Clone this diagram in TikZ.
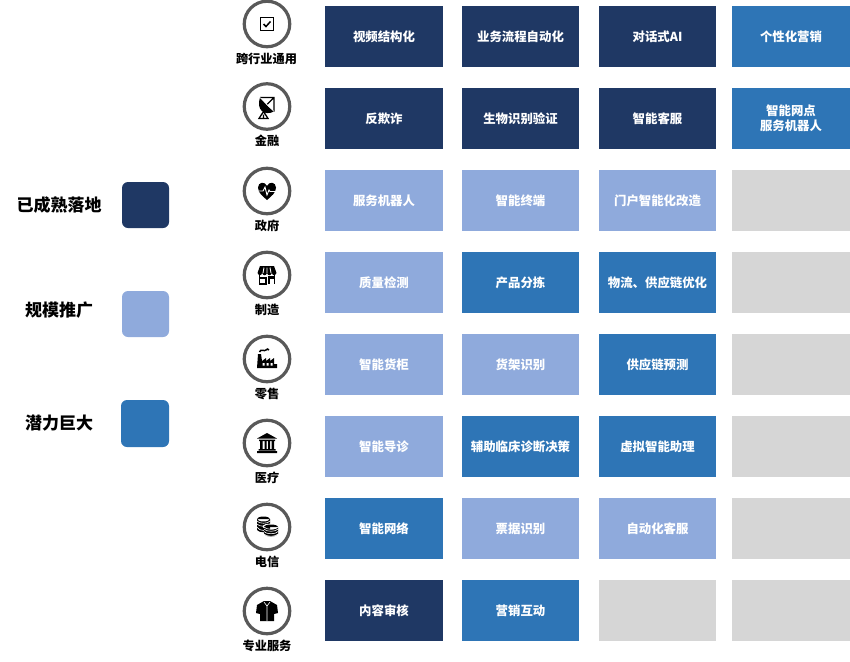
\documentclass[tikz,border=0pt]{standalone}
\usepackage{fontspec}
\setmainfont{Noto Sans CJK SC}
\definecolor{matureblue}{HTML}{1F3864}
\definecolor{scaleblue}{HTML}{8FAADC}
\definecolor{potentialblue}{HTML}{2E75B6}
\definecolor{emptygrey}{HTML}{D6D6D6}
\definecolor{ringgrey}{HTML}{595959}
\tikzset{
	cell/.style={minimum height=61, inner sep=0, outer sep=0, align=center, text=white, font=\fontsize{12.4}{15}\selectfont\bfseries},
	wide/.style={cell, minimum width=118},
	narrow/.style={cell, minimum width=117},
	ring/.style={draw=ringgrey, line width=3.2, circle, minimum size=45.5, inner sep=0},
	sector/.style={inner sep=0, font=\fontsize{12.2}{14}\selectfont\bfseries},
	swatch/.style={rounded corners=6, minimum width=47, minimum height=46, inner sep=0},
	levelname/.style={inner sep=0, font=\fontsize{17}{20}\selectfont\bfseries}
}
\begin{document}
\begin{tikzpicture}[x=1pt, y=-1pt]
	\useasboundingbox (0, 0) rectangle (850, 661);

	% legend
	\node (mature) [levelname] at (59, 205) {已成熟落地};
	\node (scale) [levelname] at (59, 310) {规模推广};
	\node (potential) [levelname] at (59, 423) {潜力巨大};
	\node (maturebox) [swatch, fill=matureblue] at (145.5, 205) {};
	\node (scalebox) [swatch, fill=scaleblue] at (145.5, 314) {};
	\node (potentialbox) [swatch, fill=potentialblue, minimum width=48, minimum height=47] at (145, 423.5) {};

	% sectors
	\node (crossring) [ring] at (267, 24) {};
	\node (financering) [ring] at (267, 106.5) {};
	\node (govring) [ring] at (267, 191) {};
	\node (makering) [ring] at (267, 275) {};
	\node (retailring) [ring] at (267, 359) {};
	\node (medring) [ring] at (267, 443) {};
	\node (telring) [ring] at (267, 527) {};
	\node (proring) [ring] at (267, 611) {};
	\node (cross) [sector] at (266.5, 59) {跨行业通用};
	\node (finance) [sector] at (267, 141) {金融};
	\node (gov) [sector] at (267, 226) {政府};
	\node (make) [sector] at (267, 310) {制造};
	\node (retail) [sector] at (267, 394) {零售};
	\node (med) [sector] at (267, 478) {医疗};
	\node (tel) [sector] at (267, 562) {电信};
	\node (pro) [sector] at (267, 646) {专业服务};

	% checkbox
	\begin{scope}[shift={(crossring.center)}]
		\draw [line width=1.5] (-6.5, -6.5) rectangle (6.5, 6.5);
		\draw [line width=1.5] (-3.5, 0) -- (-1, 2.5) -- (3.5, -2.5);
	\end{scope}
	% dish
	\begin{scope}[shift={(financering.center)}]
		\draw [line width=1.2] (-7, -9) -- (7, -9) -- (7, 5) (7, -9) -- (0, -2);
		\fill (-7, -9) .. controls (-11, 3) and (-3, 10) .. (7, 5) -- (1, 0) -- cycle;
		\draw [white, line width=0.5] (-7, -9) -- (7, 5);
		\draw [line width=1.3] (-3.5, 5) -- (-8, 12) -- (1, 12) -- cycle (-3.5, 8) -- (-3.5, 12);
	\end{scope}
	% heart
	\begin{scope}[shift={(govring.center)}]
		\fill (0, 9) .. controls (-4, 5.5) and (-9, 2) .. (-9, -3.5) .. controls (-9, -9) and (-2, -10) .. (0, -5) .. controls (2, -10) and (9, -9) .. (9, -3.5) .. controls (9, 2) and (4, 5.5) .. (0, 9) -- cycle;
		\draw [white, line width=0.9] (-9, 0) -- (-4, 0) -- (-2, -4) -- (0, 4) -- (2, -1) -- (3, 0.5) -- (9, 0.5);
	\end{scope}
	% shop front
	\begin{scope}[shift={(makering.center)}]
		\fill (-7, -9) -- (7, -9) -- (9.5, -2) .. controls (8, 1) and (6, 1) .. (4.8, -2) .. controls (3.5, 1) and (1.2, 1) .. (0, -2) .. controls (-1.2, 1) and (-3.5, 1) .. (-4.8, -2) .. controls (-6, 1) and (-8, 1) .. (-9.5, -2) -- cycle;
		\draw [white, line width=0.9] (-3, -7.5) -- (-4, -2) (0, -7.5) -- (0, -2) (3, -7.5) -- (4, -2);
		\draw [line width=1.6] (-7.5, 0) -- (-7.5, 9) -- (-1, 9) -- (-1, 3) -- (-7.5, 3) (2, 9) -- (2, 1) (7.5, 0) -- (7.5, 9);
		\fill (1.2, 1) rectangle (8.3, 4);
	\end{scope}
	% factory
	\begin{scope}[shift={(retailring.center)}]
		\fill (-10, 9) -- (-9, -5) -- (-6, -5) -- (-5, 2) -- (-1, -1) -- (-1, 2) -- (3, -1) -- (3, 2) -- (7, -1) -- (7, 5) -- (10, 5) -- (10, 9) -- cycle;
		\draw [line width=1.5] (-7.5, -7) .. controls (-6, -11) and (-3, -7) .. (-1, -9) .. controls (0, -10.5) and (1, -10) .. (2, -9);
		\fill [white] (-4.5, 4) rectangle (-2.5, 6.5) (-0.5, 4) rectangle (1.5, 6.5) (3.5, 4) rectangle (5.5, 6.5);
	\end{scope}
	% bank
	\begin{scope}[shift={(medring.center)}]
		\fill (0, -10) -- (10, -4.5) -- (-10, -4.5) -- cycle;
		\fill (-8, -3.5) rectangle (8, -2) (-8.5, 6) rectangle (8.5, 7.5) (-10, 8) rectangle (10, 10);
		\fill (-7, -2) rectangle (-4.5, 6) (-2.5, -2) rectangle (-0.5, 6) (1, -2) rectangle (3, 6) (4.5, -2) rectangle (7, 6);
	\end{scope}
	% coins
	\begin{scope}[shift={(telring.center)}]
		\fill (-10, -8) rectangle (3, 3) (-10, 3) .. controls (-8, 6) and (1, 6) .. (3, 3) -- cycle (-3.5, -8) ellipse [x radius=6.5, y radius=2.5];
		\draw [white, line width=0.6] (-10, -6) .. controls (-8, -3) and (1, -3) .. (3, -6) (-10, -3) .. controls (-8, 0) and (1, 0) .. (3, -3) (-10, 0) .. controls (-8, 3) and (-5, 3.5) .. (-3, 3.5);
		\draw [white, line width=2.4] (-4, 0) .. controls (-2, -3) and (9, -3) .. (12, 0);
		\fill (-3, 0) rectangle (11, 7) (-3, 7) .. controls (-1, 10.5) and (9, 10.5) .. (11, 7) -- cycle (4, 0) ellipse [x radius=7, y radius=2.5];
		\draw [white, line width=0.6] (-3, 2) .. controls (-1, 5) and (9, 5) .. (11, 2) (-3, 4.5) .. controls (-1, 7.5) and (9, 7.5) .. (11, 4.5) (-3, 7) .. controls (-1, 10) and (9, 10) .. (11, 7) (-3, 0) .. controls (-1, 3) and (9, 3) .. (11, 0);
	\end{scope}
	% shirt
	\begin{scope}[shift={(proring.center)}]
		\fill (-3, -10) -- (3, -10) -- (10, -6) -- (11, 2) -- (7, 3) -- (7, 10) -- (-7, 10) -- (-7, 3) -- (-11, 2) -- (-10, -6) -- cycle;
		\draw [white, line width=0.6] (-3, -9) -- (0, -5) -- (3, -9) (0, -5) -- (0, 10);
	\end{scope}

	% cross-industry
	\node (video) [wide, fill=matureblue] at (384, 36.5) {视频结构化};
	\node (process) [narrow, fill=matureblue] at (520.5, 36.5) {业务流程自动化};
	\node (dialog) [narrow, fill=matureblue] at (657.5, 36.5) {对话式AI};
	\node (promo) [wide, fill=potentialblue] at (791, 36.5) {个性化营销};
	% finance
	\node (fraud) [wide, fill=matureblue] at (384, 118.5) {反欺诈};
	\node (biometric) [narrow, fill=matureblue] at (520.5, 118.5) {生物识别验证};
	\node (service) [narrow, fill=matureblue] at (657.5, 118.5) {智能客服};
	\node (branch) [wide, fill=potentialblue] at (791, 118.5) {智能网点\\服务机器人};
	% government
	\node (robot) [wide, fill=scaleblue] at (384, 200.5) {服务机器人};
	\node (terminal) [narrow, fill=scaleblue] at (520.5, 200.5) {智能终端};
	\node (portal) [narrow, fill=scaleblue] at (657.5, 200.5) {门户智能化改造};
	\node (govnone) [wide, fill=emptygrey] at (791, 200.5) {};
	% manufacturing
	\node (quality) [wide, fill=scaleblue] at (384, 282.5) {质量检测};
	\node (sorting) [narrow, fill=potentialblue] at (520.5, 282.5) {产品分拣};
	\node (logistics) [narrow, fill=potentialblue] at (657.5, 282.5) {物流、供应链优化};
	\node (makenone) [wide, fill=emptygrey] at (791, 282.5) {};
	% retail
	\node (cabinet) [wide, fill=scaleblue] at (384, 364.5) {智能货柜};
	\node (shelf) [narrow, fill=scaleblue] at (520.5, 364.5) {货架识别};
	\node (forecast) [narrow, fill=potentialblue] at (657.5, 364.5) {供应链预测};
	\node (retailnone) [wide, fill=emptygrey] at (791, 364.5) {};
	% medical
	\node (guide) [wide, fill=scaleblue] at (384, 446.5) {智能导诊};
	\node (clinic) [narrow, fill=potentialblue] at (520.5, 446.5) {辅助临床诊断决策};
	\node (assistant) [narrow, fill=potentialblue] at (657.5, 446.5) {虚拟智能助理};
	\node (mednone) [wide, fill=emptygrey] at (791, 446.5) {};
	% telecom
	\node (network) [wide, fill=potentialblue] at (384, 528.5) {智能网络};
	\node (invoice) [narrow, fill=scaleblue] at (520.5, 528.5) {票据识别};
	\node (autoservice) [narrow, fill=scaleblue] at (657.5, 528.5) {自动化客服};
	\node (telnone) [wide, fill=emptygrey] at (791, 528.5) {};
	% professional services
	\node (review) [wide, fill=matureblue] at (384, 610.5) {内容审核};
	\node (marketing) [narrow, fill=potentialblue] at (520.5, 610.5) {营销互动};
	\node (pronone) [narrow, fill=emptygrey] at (657.5, 610.5) {};
	\node (prolast) [wide, fill=emptygrey] at (791, 610.5) {};
\end{tikzpicture}
\end{document}
